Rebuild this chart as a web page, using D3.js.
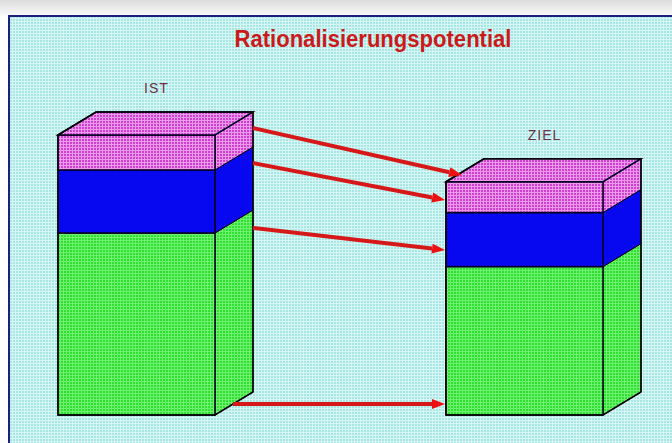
<!DOCTYPE html>
<html><head><meta charset="utf-8">
<script src="https://cdn.jsdelivr.net/npm/d3@7"></script>
<style>html,body{margin:0;padding:0;background:#fff;overflow:hidden}</style>
</head><body>
<svg id="c" width="672" height="443"></svg>
<script>
// ---- data ----
const title = "Rationalisierungspotential";
const categories = ["IST", "ZIEL"];
const segments = ["unten", "mitte", "oben"];
const greenValues = [65, 53];
const blueValues = [22.5, 19.3];
const pinkValues = [12.5, 11];
// arrows: level at IST side, level at ZIEL side
const arrowFrom = [102.5, 90, 66.8, 3.9];
const arrowTo = [85.7, 76.8, 58.9, 3.9];

const svg = d3.select("#c");
const defs = svg.append("defs");

function pattern(id, base, light, size) {
  const p = defs.append("pattern").attr("id", id).attr("patternUnits", "userSpaceOnUse")
    .attr("width", size).attr("height", size);
  p.append("rect").attr("width", size).attr("height", size).attr("fill", base);
  p.append("rect").attr("width", size).attr("height", 1).attr("fill", light);
  p.append("rect").attr("width", 1).attr("height", size).attr("fill", light);
}
pattern("bg", "#a6e6e4", "#d6f6f4", 3);
pattern("pink", "#d040d0", "#ec9aec", 3);
pattern("green", "#30e030", "#70f070", 3);
const g0 = defs.append("linearGradient").attr("id", "shade").attr("x1", 0).attr("y1", 0).attr("x2", 0).attr("y2", 1);
g0.append("stop").attr("offset", 0).attr("stop-color", "#dcdcdc");
g0.append("stop").attr("offset", 1).attr("stop-color", "#fafafa");

svg.append("rect").attr("x", 0).attr("y", 0).attr("width", 672).attr("height", 16).attr("fill", "url(#shade)");
svg.append("rect").attr("x", 9).attr("y", 16).attr("width", 700).attr("height", 460)
  .attr("fill", "url(#bg)").attr("stroke", "#1e1e80").attr("stroke-width", 2);

const x = d3.scaleBand().domain(categories).range([58, 603]).paddingInner(0.5954).paddingOuter(0);
const y = d3.scaleLinear().domain([0, 100]).range([415, 135]);
const bw = x.bandwidth();
const dx = 38, dy = -23;

const colors = { unten: "url(#green)", mitte: "#0808f0", oben: "url(#pink)" };
const dataRows = categories.map((c, i) => ({ cat: c, unten: greenValues[i], mitte: blueValues[i], oben: pinkValues[i] }));
const stacked = d3.stack().keys(segments)(dataRows);

const gBoxes = svg.append("g");
categories.forEach((c, i) => {
  const g = gBoxes.append("g");
  const x0 = x(c), x1 = x(c) + bw;
  stacked.forEach(layer => {
    const d = layer[i];
    const yb = y(d[0]), yt = y(d[1]);
    g.append("path").attr("d", `M${x1},${yb}L${x1 + dx},${yb + dy}L${x1 + dx},${yt + dy}L${x1},${yt}Z`)
      .attr("fill", colors[layer.key]).attr("stroke", "#000020").attr("stroke-width", 1);
    g.append("rect").attr("x", x0).attr("y", yt).attr("width", bw).attr("height", yb - yt)
      .attr("fill", colors[layer.key]).attr("stroke", "#000020").attr("stroke-width", 1.5);
  });
  const top = y(stacked[stacked.length - 1][i][1]);
  g.append("path").attr("d", `M${x0},${top}L${x0 + dx},${top + dy}L${x1 + dx},${top + dy}L${x1},${top}Z`)
    .attr("fill", colors.oben).attr("stroke", "#000020").attr("stroke-width", 1.5);
  const bot = y(0);
  g.append("path").attr("d", `M${x0},${top}L${x0 + dx},${top + dy}L${x1 + dx},${top + dy}L${x1 + dx},${bot + dy}L${x1},${bot}L${x0},${bot}Z`)
    .attr("fill", "none").attr("stroke", "#000").attr("stroke-width", 1.5);
  svg.append("text").attr("x", x0 + bw / 2 + 20).attr("y", top + dy - 19)
    .attr("text-anchor", "middle").attr("font-family", "Liberation Sans, Arial, sans-serif")
    .attr("font-size", 14).attr("letter-spacing", 1).attr("fill", "#6a3048").text(c);
});

// arrows
const gA = svg.append("g");
arrowFrom.forEach((fv, i) => {
  const tv = arrowTo[i];
  let sx = x("IST") + bw + dx, sy = y(fv);
  let ex = x("ZIEL") - 1, ey = y(tv);
  if (i === 0) ex = x("ZIEL") + 16;
  if (i === arrowFrom.length - 1) sx = x("IST") + bw + dx * 0.47;
  const ang = Math.atan2(ey - sy, ex - sx);
  const L = 13, W = 5;
  const bx = ex - L * Math.cos(ang), by = ey - L * Math.sin(ang);
  gA.append("line").attr("x1", sx).attr("y1", sy).attr("x2", bx).attr("y2", by)
    .attr("stroke", "#d61818").attr("stroke-width", 4);
  const px = -Math.sin(ang) * W, py = Math.cos(ang) * W;
  gA.append("path").attr("d", `M${ex},${ey}L${bx + px},${by + py}L${bx - px},${by - py}Z`).attr("fill", "#ee1010");
});

svg.append("text").attr("x", 373).attr("y", 47).attr("text-anchor", "middle")
  .attr("font-family", "Liberation Sans, Arial, sans-serif").attr("font-weight", "bold")
  .attr("font-size", 23).attr("fill", "#cc1a1a")
  .attr("textLength", 277).attr("lengthAdjust", "spacingAndGlyphs").text(title);
</script>
</body></html>
